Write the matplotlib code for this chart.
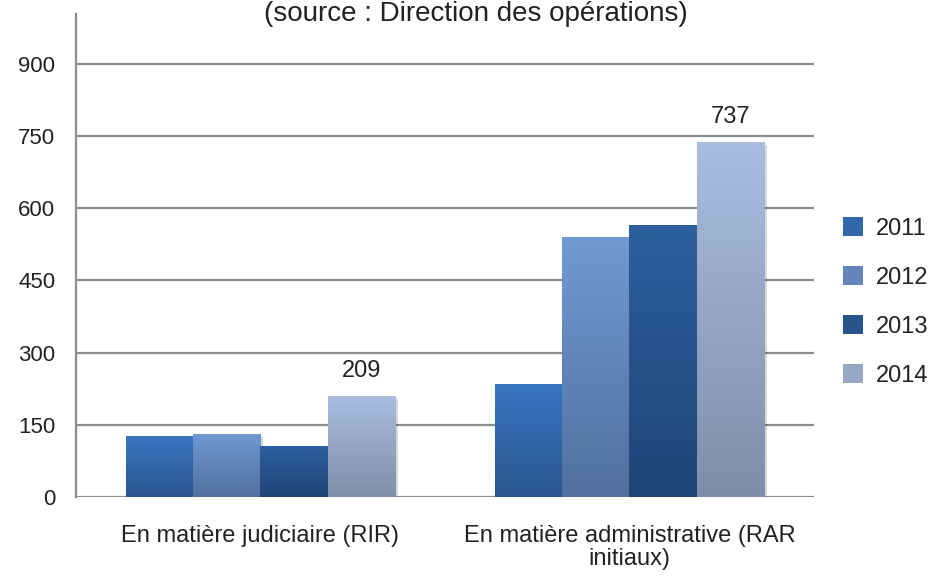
import numpy as np
import matplotlib
matplotlib.use("Agg")
import matplotlib.pyplot as plt
import matplotlib.patheffects as pe
from matplotlib.patches import Patch
from matplotlib.colors import LinearSegmentedColormap

plt.rcParams['font.family'] = ['Liberation Sans', 'DejaVu Sans']

categories = ["En matière judiciaire (RIR)", "En matière administrative (RAR\ninitiaux)"]
years = ["2011", "2012", "2013", "2014"]
v2011 = [127, 235]
v2012 = [131, 540]
v2013 = [106, 565]
v2014 = [209, 737]
series = [v2011, v2012, v2013, v2014]

# gradient colours (top, bottom) per year
grad = [("#3a76c2", "#2a568f"),
        ("#7199d2", "#51709e"),
        ("#2d609f", "#1f4476"),
        ("#aabddf", "#7f8eaa")]
legend_col = ["#3267ab", "#6285bb", "#28548c", "#97a8c7"]

W, H = 937, 580
fig = plt.figure(figsize=(W / 100, H / 100), dpi=100)
ax = fig.add_axes([76 / W, (H - 497) / H, 738 / W, (497 - 14) / H])

x = np.arange(len(categories))
bw = 0.182
grey = "#8c8c8c"

for i, vals in enumerate(series):
    cmap = LinearSegmentedColormap.from_list("g%d" % i, [grad[i][1], grad[i][0]])
    bars = ax.bar(x + (i - 1.5) * bw, vals, bw, color="none", linewidth=0, zorder=3,
                  path_effects=[pe.SimplePatchShadow(offset=(2, -2), shadow_rgbFace="#000000", alpha=0.15),
                                pe.Normal()])
    for b in bars:
        x0, y0 = b.get_x(), b.get_y()
        im = ax.imshow(np.linspace(0, 1, 100).reshape(-1, 1), cmap=cmap, origin="lower",
                       extent=[x0, x0 + b.get_width(), y0, y0 + b.get_height()],
                       aspect="auto", zorder=4)
        im.set_clip_path(b)

# value labels on the 2014 bars
for j, v in enumerate(v2014):
    ax.annotate(str(v), (x[j] + 1.5 * bw, v), xytext=(0, 18), textcoords="offset points",
                ha="center", va="center", fontsize=17, color="#222222")

ax.set_xlim(-0.5, 1.5)
ax.set_ylim(0, 1003)
ax.set_yticks(range(0, 901, 150))
ax.set_xticks(x)
ax.set_xticklabels(categories, fontsize=17, color="#222222", linespacing=1.1)
ax.tick_params(axis="y", length=0, pad=15, labelsize=16, labelcolor="#222222")
ax.tick_params(axis="x", length=0, pad=20)
ax.grid(axis="y", color=grey, linewidth=1.6, zorder=0)
ax.set_axisbelow(True)
for s in ["top", "right", "bottom"]:
    ax.spines[s].set_visible(False)
ax.spines["left"].set_color(grey)
ax.spines["left"].set_linewidth(1.6)

handles = [Patch(facecolor=legend_col[i], edgecolor="none") for i in range(4)]
fig.legend(handles, years, loc="center left", bbox_to_anchor=(822 / W, 1 - 302 / H),
           frameon=False, fontsize=17, labelspacing=1.12, handlelength=0.85,
           handleheight=0.85, handletextpad=0.55, labelcolor="#222222")

fig.text(476 / W, 1 - 21 / H, "(source : Direction des opérations)", ha="center",
         va="baseline", fontsize=20, color="#222222")

fig.savefig("out.png", dpi=100)
